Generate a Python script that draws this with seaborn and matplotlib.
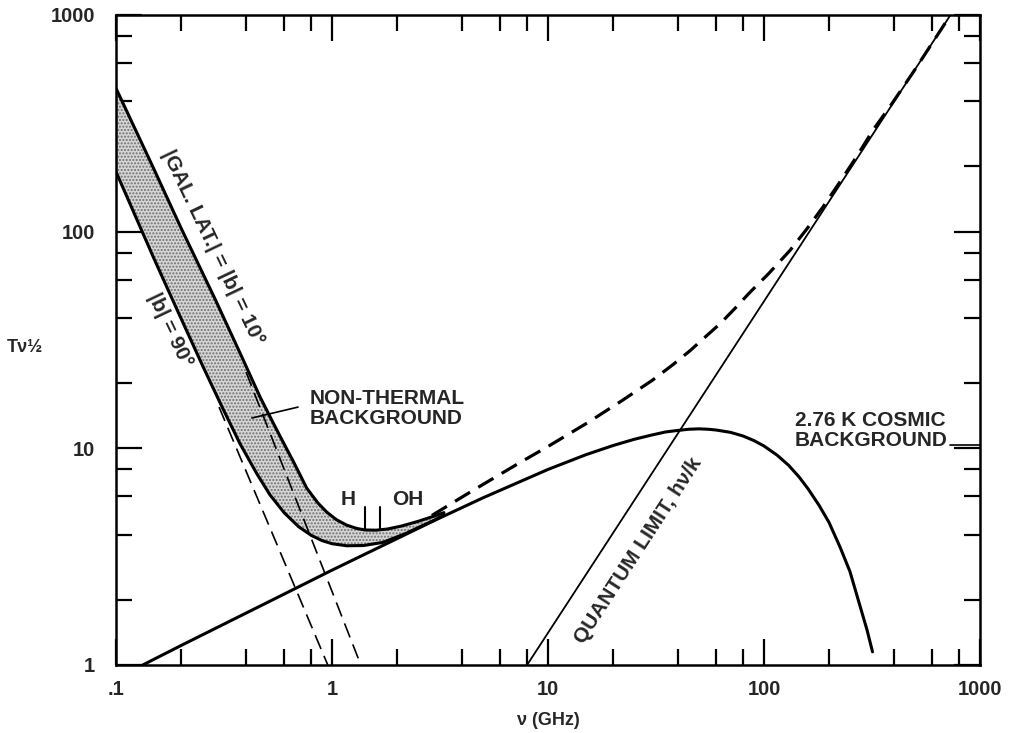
import numpy as np
import matplotlib
matplotlib.use('Agg')
import matplotlib.pyplot as plt
from matplotlib.ticker import LogLocator, NullFormatter
import seaborn as sns

# values (nu in GHz, T * nu^1/2)
cmb_nu = [0.133, 0.2, 0.5, 1, 2, 3, 5, 10, 15, 20, 25, 30, 35, 40, 45, 50, 55, 60, 70, 80, 90,
          100, 115, 130, 145, 160, 180, 200, 225, 250, 275, 300, 318]
cmb_val = [1.0, 1.23, 1.94, 2.74, 3.83, 4.66, 5.91, 7.99, 9.35, 10.3, 11.0, 11.5, 11.9, 12.1, 12.25,
           12.3, 12.25, 12.15, 11.85, 11.4, 10.85, 10.25, 9.3, 8.35, 7.4, 6.5, 5.45, 4.55, 3.5, 2.7,
           1.95, 1.45, 1.15]

upper_nu = [0.1, 0.15, 0.2, 0.29, 0.388, 0.464, 0.53, 0.585, 0.662, 0.764, 0.86, 0.945, 1.05,
            1.17, 1.3, 1.42, 1.6, 1.8, 2.1, 2.5, 2.94, 3.3]
upper_val = [459, 194, 104, 48, 25.6, 17.3, 13.3, 11.0, 8.7, 6.55, 5.6, 5.08, 4.68, 4.42, 4.27,
             4.2, 4.19, 4.24, 4.38, 4.6, 4.85, 5.05]

lower_nu = [0.1, 0.15, 0.194, 0.252, 0.309, 0.375, 0.45, 0.516, 0.6, 0.7, 0.8, 0.9, 1.0, 1.17,
            1.4, 1.72, 2.2, 2.6, 2.94, 3.3]
lower_val = [189, 75, 42.5, 24, 15.6, 10.5, 7.6, 6.1, 5.05, 4.35, 3.97, 3.75, 3.63, 3.55, 3.56,
             3.68, 4.05, 4.38, 4.63, 4.92]

nt10_nu = [0.40, 1.36]
nt10_val = [22.5, 1]
nt90_nu = [0.30, 0.956]
nt90_val = [15.5, 1]

quantum_nu = [8.0, 730]
quantum_val = [1, 1000]

total_nu = [2.9, 4.5, 7.42, 10, 15.2, 22, 30.6, 38, 45.4, 53, 62.6, 73, 86.1, 105, 132, 158,
            187.5, 225, 270, 320, 383, 500, 730]
total_val = [4.9, 6.4, 8.6, 10.2, 13.1, 16.6, 20.7, 24.4, 28.2, 32.4, 37.6, 44, 52.5, 64, 82, 103,
             130, 170, 224, 295, 378, 560, 1000]

# spectral line markers (H 21 cm, OH 18 cm)
line_nu = [1.42, 1.67]
line_lo = [4.2, 4.2]
line_hi = [5.36, 5.36]

xtick_vals = [0.1, 1, 10, 100, 1000]
xtick_labels = ['.1', '1', '10', '100', '1000']
ytick_vals = [1, 10, 100, 1000]
ytick_labels = ['1', '10', '100', '1000']

sns.set_theme(style='ticks')
plt.rcParams['font.family'] = ['Liberation Sans', 'DejaVu Sans']
plt.rcParams['font.weight'] = 'bold'
plt.rcParams['hatch.linewidth'] = 1.0

fig = plt.figure(figsize=(10.1, 7.33), dpi=100)
ax = fig.add_axes([116 / 1010, 1 - 665 / 733, 864 / 1010, 650 / 733])
ax.set_xscale('log')
ax.set_yscale('log')

# stippled band between the two galactic latitudes
band_x = np.concatenate([upper_nu, lower_nu[::-1]])
band_y = np.concatenate([upper_val, lower_val[::-1]])
ax.fill(band_x, band_y, facecolor='#d6d6d6', edgecolor='#6e6e6e', hatch='.....', lw=0, zorder=1)

k = 'black'
sns.lineplot(x=nt10_nu, y=nt10_val, ax=ax, color=k, lw=1.2, linestyle=(0, (9, 4.5)), estimator=None)
sns.lineplot(x=nt90_nu, y=nt90_val, ax=ax, color=k, lw=1.2, linestyle=(0, (9, 4.5)), estimator=None)
sns.lineplot(x=upper_nu, y=upper_val, ax=ax, color=k, lw=2.2, estimator=None)
sns.lineplot(x=lower_nu, y=lower_val, ax=ax, color=k, lw=2.2, estimator=None)
sns.lineplot(x=cmb_nu, y=cmb_val, ax=ax, color=k, lw=2.2, estimator=None)
sns.lineplot(x=quantum_nu, y=quantum_val, ax=ax, color=k, lw=1.3, estimator=None)
sns.lineplot(x=total_nu, y=total_val, ax=ax, color=k, lw=2.3, linestyle=(0, (5.5, 3)), estimator=None)

for nu, lo, hi in zip(line_nu, line_lo, line_hi):
    ax.plot([nu, nu], [lo, hi], color=k, lw=1.5)

ax.set_xlim(0.1, 1000)
ax.set_ylim(1, 1000)

ax.set_xticks(xtick_vals, xtick_labels)
ax.set_yticks(ytick_vals, ytick_labels)
ax.xaxis.set_minor_locator(LogLocator(base=10, subs=[2, 4, 6, 8]))
ax.yaxis.set_minor_locator(LogLocator(base=10, subs=[2, 4, 6, 8]))
ax.xaxis.set_minor_formatter(NullFormatter())
ax.yaxis.set_minor_formatter(NullFormatter())
ax.tick_params(which='both', direction='in', top=True, right=True, width=1.6, color=k)
ax.tick_params(which='major', length=19, labelsize=14.5)
ax.tick_params(axis='y', which='major', pad=15)
ax.tick_params(axis='x', which='major', pad=11)
ax.tick_params(which='minor', length=11.5)
for lab in ax.get_xticklabels() + ax.get_yticklabels():
    lab.set_fontweight('bold')
for sp in ax.spines.values():
    sp.set_linewidth(1.8)
    sp.set_color(k)

ax.set_xlabel('ν (GHz)', fontsize=13, fontweight='bold', labelpad=9)
fig.text(25 / 1010, 1 - 348 / 733, 'Tν½', fontsize=13, ha='center', va='center')

fs = 15
ax.text(0.281, 85, '|GAL. LAT.| = |b| = 10°', rotation=-64.5, ha='center', va='center',
        fontsize=fs, fontweight='bold', rotation_mode='anchor')
ax.text(0.178, 35, '|b| = 90°', rotation=-64.5, ha='center', va='center',
        fontsize=fs, fontweight='bold', rotation_mode='anchor')
ax.text(0.791, 15.3, 'NON-THERMAL\nBACKGROUND', ha='left', va='center',
        fontsize=fs, fontweight='bold', linespacing=1.05)
ax.plot([0.426, 0.696], [13.8, 15.5], color=k, lw=1.2)
ax.text(1.19, 5.78, 'H', ha='center', va='center', fontsize=fs, fontweight='bold')
ax.text(2.25, 5.82, 'OH', ha='center', va='center', fontsize=fs, fontweight='bold')
ax.text(26.3, 3.39, 'QUANTUM LIMIT, hν/k', rotation=57, ha='center', va='center',
        fontsize=fs, fontweight='bold', rotation_mode='anchor')
ax.text(139, 12.1, '2.76 K COSMIC\nBACKGROUND', ha='left', va='center',
        fontsize=fs, fontweight='bold', linespacing=1.05)
ax.plot([727, 1000], [10.35, 10.35], color=k, lw=1.2)

fig.savefig('out.png', dpi=100)
